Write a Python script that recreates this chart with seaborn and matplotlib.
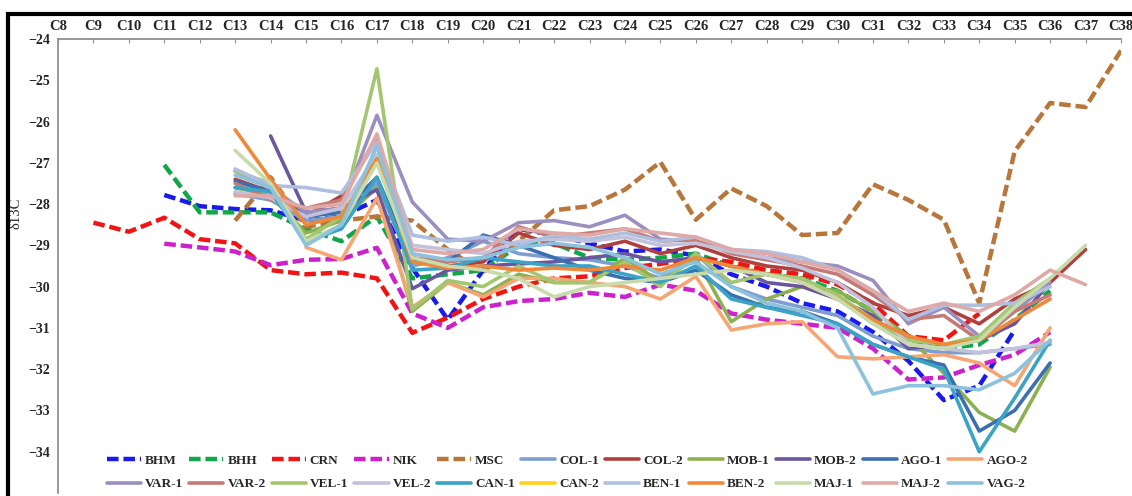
"""Recreate the delta13C n-alkane profile chart (C8-C38) for all samples."""

import matplotlib

matplotlib.use("Agg")
import matplotlib.pyplot as plt
import pandas as pd
import seaborn as sns
from matplotlib.lines import Line2D
from matplotlib.patches import Rectangle

# carbon numbers shown on the top axis
carbons = list(range(8, 39))
carbon_labels = [f"C{c}" for c in carbons]
y_ticks = list(range(-34, -23))

# each series: first carbon number, then d13C values
bhm_start = 11
bhm = [-27.78, -28.05, -28.12, -28.15, -28.4, -28.3, -27.9, -29.55, -30.8, -29.6,
       -28.6, -28.75, -28.95, -29.15, -29.1, -29.25, -29.7, -30.0, -30.4, -30.6,
       -31.1, -31.8, -32.75, -32.4, -31.05]
bhh_start = 11
bhh = [-27.05, -28.2, -28.2, -28.2, -28.6, -28.9, -28.3, -29.8, -29.7, -29.6,
       -29.0, -28.95, -29.3, -29.35, -29.3, -29.2, -29.5, -29.7, -29.8, -30.1,
       -30.6, -31.3, -31.5, -31.4, -30.8, -30.1]
crn_start = 9
crn = [-28.45, -28.67, -28.33, -28.85, -28.95, -29.6, -29.7, -29.66, -29.8, -31.12,
       -30.75, -30.3, -30.0, -29.8, -29.75, -29.55, -29.45, -29.3, -29.4, -29.6,
       -29.7, -29.95, -30.4, -31.2, -31.3, -30.65]
nik_start = 11
nik = [-28.96, -29.05, -29.15, -29.48, -29.35, -29.33, -29.06, -30.65, -31.0, -30.5,
       -30.35, -30.3, -30.15, -30.25, -29.95, -30.1, -30.65, -30.8, -30.9, -31.0,
       -31.5, -32.25, -32.2, -31.9, -31.65, -31.1]
msc_start = 13
msc = [-28.4, -27.35, -28.55, -28.4, -28.3, -28.4, -29.1, -29.65, -28.9, -28.15,
       -28.05, -27.65, -26.98, -28.38, -27.62, -28.05, -28.75, -28.7, -27.52, -27.9,
       -28.38, -30.4, -26.72, -25.55, -25.65, -24.28]

col1_start = 13
col1 = [-27.75, -27.9, -28.4, -28.3, -27.5, -29.5, -29.3, -28.9, -29.2, -29.3,
        -29.35, -29.5, -29.8, -29.2, -30.0, -30.3, -30.5, -30.7, -31.2, -31.5,
        -31.6, -31.6, -31.5, -31.4]
col2_start = 13
col2 = [-27.4, -27.7, -28.3, -27.8, -26.4, -29.3, -29.5, -29.4, -28.7, -29.0,
        -29.1, -28.9, -29.2, -29.0, -29.3, -29.5, -29.6, -29.9, -30.4, -30.7,
        -30.5, -30.9, -30.3, -29.9, -29.1]
mob1_start = 13
mob1 = [-27.6, -27.8, -28.7, -28.4, -27.6, -30.6, -29.9, -30.2, -29.7, -29.9,
        -29.9, -29.3, -29.9, -29.3, -30.85, -30.3, -30.0, -30.1, -30.6, -31.2,
        -32.1, -33.05, -33.5, -31.95]
mob2_start = 14
mob2 = [-26.35, -28.2, -28.1, -27.65, -30.05, -29.6, -29.5, -29.45, -29.4, -29.3,
        -29.2, -29.4, -29.3, -29.5, -29.9, -30.0, -30.3, -30.7, -31.5, -31.4,
        -31.3, -30.9, -29.9]
ago1_start = 13
ago1 = [-27.45, -27.7, -28.3, -28.2, -27.35, -29.35, -29.4, -28.75, -29.0, -29.3,
        -29.6, -29.8, -29.9, -29.6, -30.2, -30.5, -30.6, -30.9, -31.4, -31.7,
        -31.9, -33.5, -33.0, -31.85]
ago2_start = 15
ago2 = [-29.05, -29.35, -27.85, -30.5, -29.9, -30.25, -29.8, -29.8, -29.9, -30.0,
        -30.3, -29.75, -31.05, -30.9, -30.85, -31.7, -31.75, -31.7, -31.65, -31.85,
        -32.4, -31.0]
var1_start = 13
var1 = [-27.2, -27.6, -28.2, -28.1, -25.85, -27.95, -28.85, -28.9, -28.45, -28.4,
        -28.55, -28.27, -28.85, -28.9, -29.1, -29.3, -29.4, -29.5, -29.85, -30.9,
        -30.5, -31.2, -30.6, -29.9]
var2_start = 13
var2 = [-27.5, -27.9, -28.1, -27.9, -26.4, -29.3, -29.4, -29.3, -28.55, -28.8,
        -28.7, -28.6, -28.9, -28.85, -29.2, -29.35, -29.5, -29.7, -30.2, -30.8,
        -30.7, -31.3, -30.6, -30.2]
vel1_start = 13
vel1 = [-27.2, -27.5, -28.85, -28.3, -24.72, -30.55, -29.85, -30.0, -29.5, -29.9,
        -29.9, -29.4, -30.0, -29.2, -29.9, -29.7, -29.8, -30.2, -30.8, -31.3,
        -31.4, -31.2, -30.4, -29.8]
vel2_start = 13
vel2 = [-27.7, -27.85, -28.3, -28.1, -26.8, -29.0, -29.1, -29.2, -28.9, -28.85,
        -28.9, -28.8, -29.0, -28.95, -29.15, -29.3, -29.55, -29.9, -30.5, -31.4,
        -31.5, -31.6, -31.5, -31.35]
can1_start = 13
can1 = [-27.6, -27.7, -28.9, -28.6, -27.35, -29.6, -29.55, -29.3, -29.4, -29.5,
        -29.5, -29.7, -29.9, -29.5, -30.3, -30.5, -30.7, -30.9, -31.4, -31.7,
        -32.0, -34.0, -32.7, -31.3]
can2_start = 13
can2 = []  # listed in the legend, no visible line
ben1_start = 13
ben1 = [-27.15, -27.55, -27.6, -27.73, -26.5, -28.75, -28.9, -28.8, -29.0, -28.75,
        -28.85, -28.7, -28.9, -28.8, -29.1, -29.15, -29.3, -29.6, -30.1, -30.8,
        -30.45, -30.45, -30.4, -30.0]
ben2_start = 13
ben2 = [-26.2, -27.4, -28.5, -28.3, -26.9, -29.4, -29.55, -29.5, -29.6, -29.55,
        -29.6, -29.5, -29.6, -29.3, -29.5, -29.7, -29.9, -30.3, -30.8, -31.2,
        -31.4, -31.3, -30.8, -30.3]
maj1_start = 13
maj1 = [-26.7, -27.5, -28.9, -28.5, -27.0, -29.3, -29.5, -29.6, -29.8, -30.25,
        -30.0, -29.9, -29.8, -29.7, -29.6, -29.7, -29.9, -30.3, -30.9, -31.4,
        -31.5, -31.3, -30.5, -29.8, -29.0]
maj2_start = 13
maj2 = [-27.8, -27.8, -28.1, -28.0, -26.3, -29.1, -29.2, -29.1, -28.6, -28.7,
        -28.75, -28.6, -28.7, -28.8, -29.1, -29.2, -29.4, -29.6, -30.1, -30.6,
        -30.4, -30.6, -30.2, -29.6, -29.95]
vag2_start = 13
vag2 = [-27.3, -27.6, -29.0, -28.5, -26.6, -29.2, -29.35, -29.3, -29.05, -28.95,
        -29.05, -29.3, -29.7, -29.4, -30.0, -30.4, -30.6, -31.0, -32.6, -32.4,
        -32.4, -32.5, -32.1, -31.3]

names = ["BHM", "BHH", "CRN", "NIK", "MSC", "COL-1", "COL-2", "MOB-1", "MOB-2",
         "AGO-1", "AGO-2", "VAR-1", "VAR-2", "VEL-1", "VEL-2", "CAN-1", "CAN-2",
         "BEN-1", "BEN-2", "MAJ-1", "MAJ-2", "VAG-2"]
starts = [bhm_start, bhh_start, crn_start, nik_start, msc_start, col1_start,
          col2_start, mob1_start, mob2_start, ago1_start, ago2_start, var1_start,
          var2_start, vel1_start, vel2_start, can1_start, can2_start, ben1_start,
          ben2_start, maj1_start, maj2_start, vag2_start]
values = [bhm, bhh, crn, nik, msc, col1, col2, mob1, mob2, ago1, ago2, var1, var2,
          vel1, vel2, can1, can2, ben1, ben2, maj1, maj2, vag2]
colors = ["#1a1aee", "#10a64a", "#f01414", "#cc22cc", "#b8763a", "#7f9ed0",
          "#b0403c", "#8db050", "#6b57a0", "#3b6fb0", "#f5a673", "#9b8fc0",
          "#c47a76", "#a3c670", "#c2c2dc", "#3aa3c6", "#ffd21a", "#aebfe0",
          "#f0883a", "#c8dbab", "#dea9a6", "#8cc2dc"]
dashed = {"BHM", "BHH", "CRN", "NIK", "MSC"}


def main() -> None:
    sns.set_style("white")
    plt.rcParams["font.family"] = ["Liberation Serif", "DejaVu Serif"]

    fig = plt.figure(figsize=(11.32, 4.96), dpi=100)
    ax = fig.add_axes([58 / 1132, 3 / 496, (1121 - 58) / 1132, 454 / 496])

    handles = {}
    for name, start, vals, color in zip(names, starts, values, colors):
        style = (0, (2.6, 1.1)) if name in dashed else "-"
        width = 3.2 if name in dashed else 2.6
        if vals:
            frame = pd.DataFrame({"carbon": range(start, start + len(vals)), "d13c": vals})
            sns.lineplot(data=frame, x="carbon", y="d13c", ax=ax, color=color,
                         linewidth=width, linestyle=style, errorbar=None, legend=False)
        handles[name] = Line2D([], [], color=color, linewidth=width, linestyle=style)

    ax.set_xlim(8, 38)
    ax.set_ylim(-35, -24)
    ax.set_xticks(carbons)
    ax.set_xticklabels(carbon_labels)
    ax.set_yticks(y_ticks)
    ax.xaxis.tick_top()
    ax.tick_params(axis="x", direction="in", length=3, color="#909090", pad=4,
                   labelsize=10.5)
    ax.tick_params(axis="y", direction="inout", length=5, color="#909090", pad=3,
                   labelsize=10)
    for label in ax.get_xticklabels() + ax.get_yticklabels():
        label.set_fontweight("bold")
    for side in ["right", "bottom"]:
        ax.spines[side].set_visible(False)
    for side in ["left", "top"]:
        ax.spines[side].set_color("#909090")
        ax.spines[side].set_linewidth(1.3)
    ax.set_xlabel("")
    ax.set_ylabel("δ13C", fontsize=10.5)
    ax.yaxis.set_label_coords(-0.0335, 0.617)

    # legend: first 11 samples on the top row, the rest below
    first, second = names[:11], names[11:]
    order = [n for pair in zip(first, second) for n in pair]
    ax.legend([handles[n] for n in order], order, ncol=11, loc="lower center",
              bbox_to_anchor=(0.479, -0.02), frameon=False, handlelength=2.6,
              handletextpad=0.3, columnspacing=0.45, labelspacing=0.85,
              prop={"family": "Liberation Serif", "weight": "bold", "size": 9.5})

    fig.add_artist(Rectangle((8 / 1132, -0.05), 1.2, 1.05 - 14 / 496,
                             transform=fig.transFigure, fill=False,
                             edgecolor="black", linewidth=3))

    plt.savefig("out.png", dpi=100)
    plt.close()


if __name__ == "__main__":
    main()
